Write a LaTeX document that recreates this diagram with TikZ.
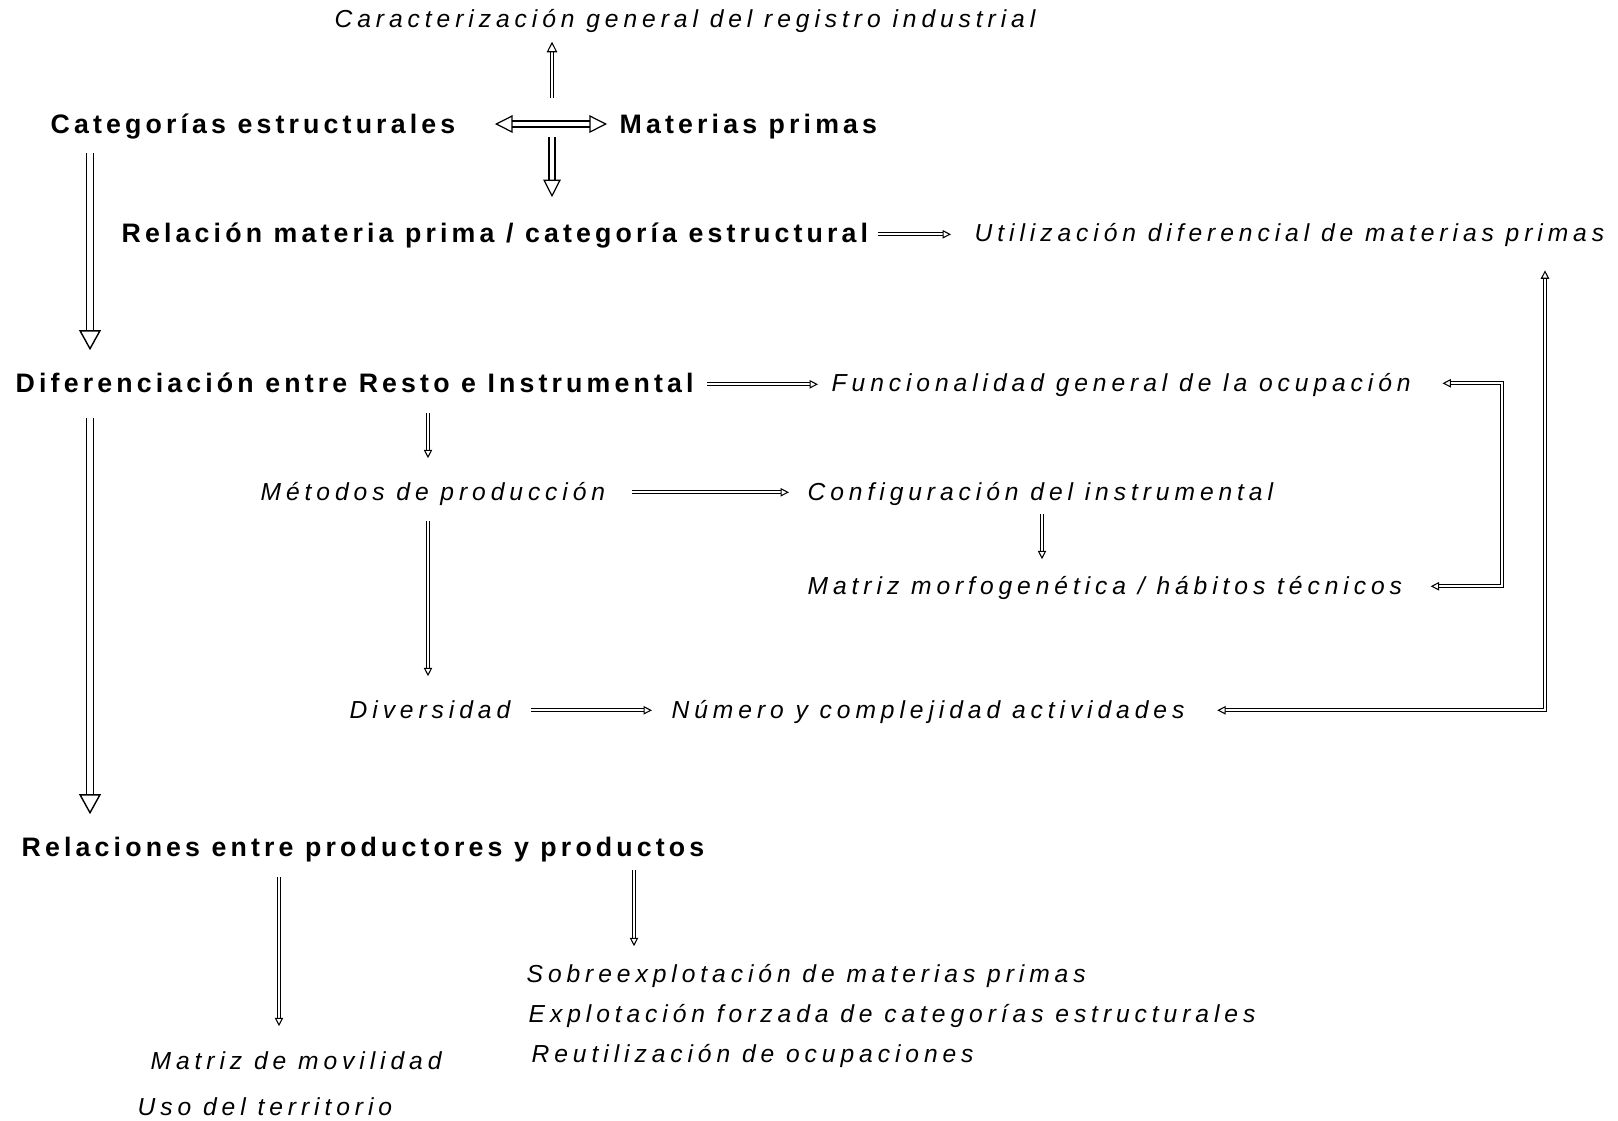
\documentclass[tikz,border=0pt]{standalone}
\usepackage{fontspec}
\setmainfont{Liberation Sans}
\newfontfamily\boldlab[LetterSpace=15.5]{Liberation Sans}
\newfontfamily\itlab[LetterSpace=20]{Liberation Sans}
\usetikzlibrary{arrows.meta,calc}

\tikzset{
  head/.style={anchor=base west, inner sep=0pt, text height=6pt, text depth=1.6pt,
               font=\boldlab\bfseries\fontsize{7.6pt}{9pt}\selectfont},
  note/.style={anchor=base west, inner sep=0pt, text height=6pt, text depth=1.6pt,
               font=\itlab\itshape\fontsize{7pt}{8.5pt}\selectfont},
  arrs/.style={double, line width=.3pt, double distance=.6pt,
               >={Triangle[length=2.4pt,width=2.4pt,fill=white,line width=.3pt]}},
  arrm/.style={double, line width=.35pt, double distance=1.3pt,
               >={Triangle[length=5pt,width=5pt,fill=white,line width=.35pt]}},
  arrb/.style={double, line width=.4pt, double distance=1.5pt,
               >={Triangle[length=5.7pt,width=6.2pt,fill=white,line width=.4pt]}}
}

\begin{document}
\begin{tikzpicture}[x=0.01cm, y=-0.01cm]
  \useasboundingbox (0,0) rectangle (1618,1120);

  \node[note] (car) at (334,27) {Caracterización general del registro industrial};
  \node[head] (cat) at (50,133) {Categorías estructurales};
  \node[head] (mat) at (619,133) {Materias primas};
  \node[head] (rel) at (121,242) {Relación materia prima / categoría estructural};
  \node[note] (util) at (974,241) {Utilización diferencial de materias primas};
  \node[head] (dif) at (15,392) {Diferenciación entre Resto e Instrumental};
  \node[note] (fun) at (831,391) {Funcionalidad general de la ocupación};
  \node[note] (met) at (260,500) {Métodos de producción};
  \node[note] (conf) at (807,500) {Configuración del instrumental};
  \node[note] (morf) at (807,594) {Matriz morfogenética / hábitos técnicos};
  \node[note] (div) at (349,718) {Diversidad};
  \node[note] (num) at (671,718) {Número y complejidad actividades};
  \node[head] (prod) at (21,856) {Relaciones entre productores y productos};
  \node[note] (sob) at (526,982) {Sobreexplotación de materias primas};
  \node[note] (expl) at (528,1022) {Explotación forzada de categorías estructurales};
  \node[note] (reut) at (531,1062) {Reutilización de ocupaciones};
  \node[note] (movi) at (150,1069) {Matriz de movilidad};
  \node[note] (uso) at (137,1115) {Uso del territorio};

  \coordinate (hub) at (552,124);
  \coordinate (colL) at (90,0);
  \coordinate (colM) at (428,0);
  \coordinate (colC) at (1042,0);
  \coordinate (colP) at (279,0);
  \coordinate (colS) at (634,0);
  \coordinate (brk) at (1502,0);
  \coordinate (colR) at (1545,0);

  \draw[arrm, <->] ([xshift=-5.7mm]hub) -- ([xshift=5.5mm]hub);
  \draw[arrs, ->, >={Triangle[length=3pt,width=3pt,fill=white,line width=.3pt]}, shorten >=0.84mm] ([yshift=2.6mm]hub) -- (car.south -| hub);
  \draw[arrm, ->, shorten <=1.3mm, shorten >=2.3mm] (hub) -- (rel.north -| hub);
  \draw[arrb, ->, shorten <=1.4mm, shorten >=2mm] (cat.south -| colL) -- (dif.north -| colL);
  \draw[arrs, ->, shorten <=0.9mm, shorten >=2.3mm] (rel.east) -- (rel.east -| util.west);
  \draw[arrs, ->, shorten <=1.3mm, shorten >=1.3mm] (dif.east) -- (dif.east -| fun.west);
  \draw[arrs, ->, shorten <=1.5mm, shorten >=2mm] (dif.south -| colM) -- (met.north -| colM);
  \draw[arrs, ->, shorten <=2.6mm, shorten >=1.8mm] (met.east) -- (met.east -| conf.west);
  \draw[arrs, ->, shorten <=0.8mm, shorten >=1.3mm] (conf.south -| colC) -- (morf.north -| colC);
  \draw[arrs, ->, shorten <=1.5mm, shorten >=2mm] (met.south -| colM) -- (div.north -| colM);
  \draw[arrs, ->, shorten <=2mm, shorten >=1.9mm] (div.east) -- (div.east -| num.west);
  \draw[arrs, <->, shorten <=3.1mm, shorten >=2.8mm] (fun.east) -- (fun.east -| brk) -- (morf.east -| brk) -- (morf.east);
  \draw[arrs, <->, shorten <=3.2mm, shorten >=2.3mm] (num.east) -- (num.east -| colR) -- (util.south -| colR);
  \draw[arrb, ->, shorten <=2mm, shorten >=2mm] (dif.south -| colL) -- (prod.north -| colL);
  \draw[arrs, ->, shorten <=1.5mm, shorten >=2.1mm] (prod.south -| colP) -- (movi.north -| colP);
  \draw[arrs, ->, shorten <=0.8mm, shorten >=1.4mm] (prod.south -| colS) -- (sob.north -| colS);
\end{tikzpicture}
\end{document}
